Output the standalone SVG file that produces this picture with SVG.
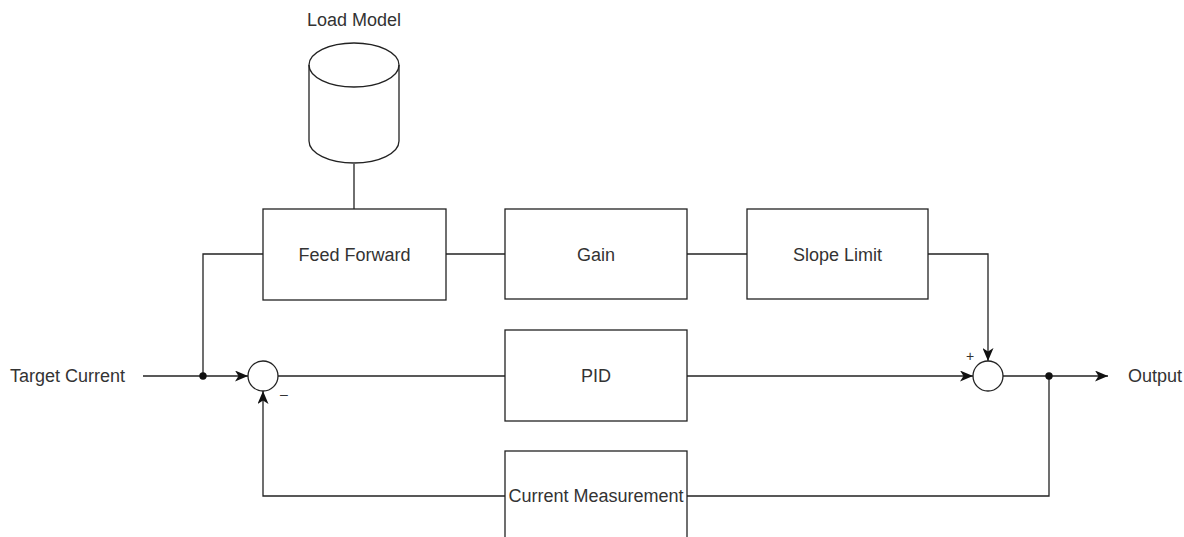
<svg xmlns="http://www.w3.org/2000/svg" width="1184" height="537" viewBox="0 0 1184 537">
<style>
.box{fill:#fff;stroke:#222;stroke-width:1.3}
.ln{fill:none;stroke:#222;stroke-width:1.3}
.t{font-family:"Liberation Sans",Arial,sans-serif;font-size:18px;fill:#333}
.c{text-anchor:middle}
.s{font-size:14px}
</style>
<defs>
<marker id="arr" viewBox="0 0 13 11" refX="13" refY="5.5" markerWidth="13" markerHeight="11" markerUnits="userSpaceOnUse" orient="auto">
<path d="M0,0 L13,5.5 L0,11 L3.5,5.5 Z" fill="#111"/>
</marker>
</defs>
<rect width="1184" height="537" fill="#fff"/>
<g id="connectors">
<path class="ln" d="M354,164 L354,209"/>
<path class="ln" d="M446,254 L505,254"/>
<path class="ln" d="M687,254 L747,254"/>
<path class="ln" d="M143,376 L248,376" marker-end="url(#arr)"/>
<path class="ln" d="M203,376 L203,254 L263,254"/>
<path class="ln" d="M278,376 L505,376"/>
<path class="ln" d="M687,376 L973,376" marker-end="url(#arr)"/>
<path class="ln" d="M928,254 L988,254 L988,361" marker-end="url(#arr)"/>
<path class="ln" d="M1003,376 L1108,376" marker-end="url(#arr)"/>
<path class="ln" d="M1049,376 L1049,496 L687,496"/>
<path class="ln" d="M505,496 L263,496 L263,391" marker-end="url(#arr)"/>
<circle cx="203" cy="376" r="3.7" fill="#111"/>
<circle cx="1049" cy="376" r="3.7" fill="#111"/>
</g>
<g id="load-model">
<path class="box" d="M309,65 L309,141 A45,22 0 0 0 399,141 L399,65 A45,22 0 0 0 309,65 Z"/>
<path class="ln" d="M309,65 A45,22 0 0 0 399,65"/>
<text class="t c" x="354" y="26">Load Model</text>
</g>
<g id="feed-forward">
<rect class="box" x="263" y="209" width="183" height="91"/>
<text class="t c" x="354.5" y="260.5">Feed Forward</text>
</g>
<g id="gain">
<rect class="box" x="505" y="209" width="182" height="90"/>
<text class="t c" x="596" y="260.5">Gain</text>
</g>
<g id="slope-limit">
<rect class="box" x="747" y="209" width="181" height="90"/>
<text class="t c" x="837.5" y="260.5">Slope Limit</text>
</g>
<g id="pid">
<rect class="box" x="505" y="330" width="182" height="91"/>
<text class="t c" x="596" y="382">PID</text>
</g>
<g id="current-measurement">
<rect class="box" x="505" y="451" width="182" height="91"/>
<text class="t c" x="596" y="502">Current Measurement</text>
</g>
<g id="sum1">
<circle class="box" cx="263" cy="376" r="15"/>
<text class="t c s" x="284" y="399">–</text>
</g>
<g id="sum2">
<circle class="box" cx="988" cy="376" r="15"/>
<text class="t c s" x="970" y="361">+</text>
</g>
<g id="labels">
<text class="t" x="10" y="382">Target Current</text>
<text class="t" x="1128" y="382">Output</text>
</g>
</svg>
